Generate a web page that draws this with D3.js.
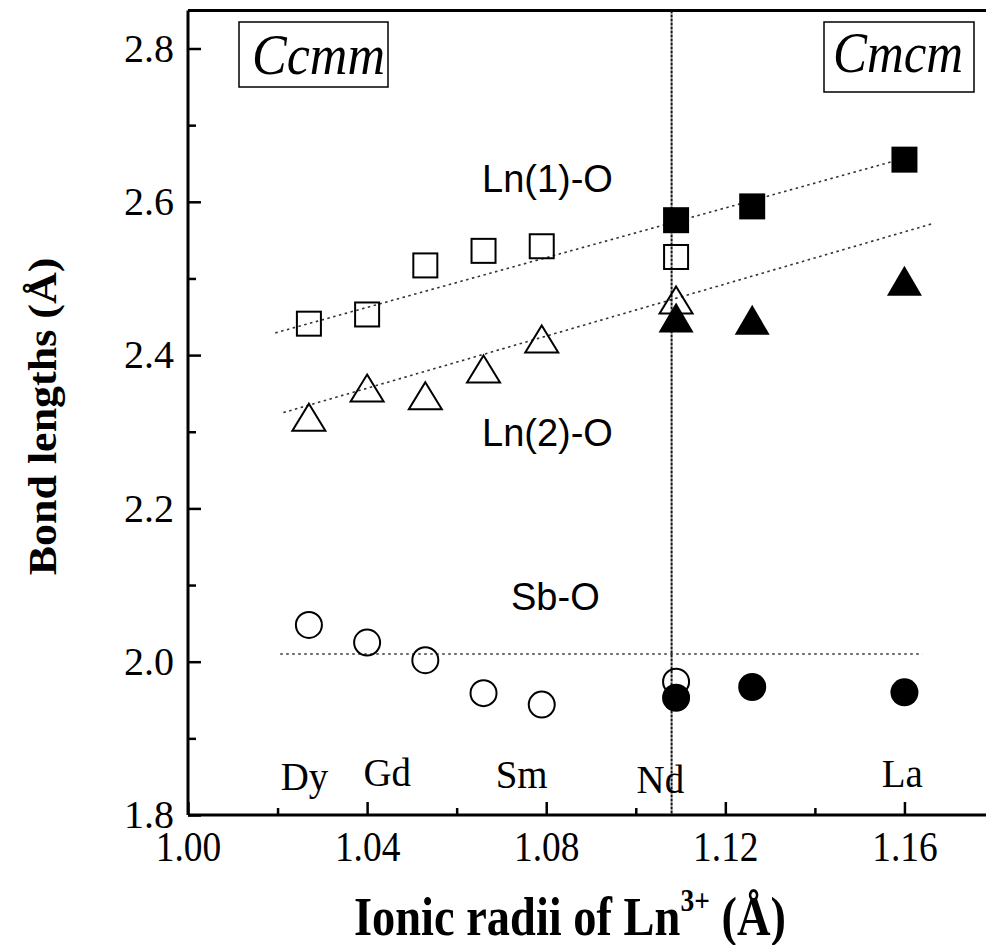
<!DOCTYPE html>
<html>
<head>
<meta charset="utf-8">
<script src="https://cdn.jsdelivr.net/npm/d3@7"></script>
<style>
  html, body { margin: 0; padding: 0; background: #fff; }
  svg { display: block; }
</style>
</head>
<body>
<svg id="chart" width="986" height="945"></svg>
<script>
// ionic radii of Ln3+ (Å)
const elements = ["Dy", "Tb", "Gd", "Eu", "Sm", "Nd", "Pr", "La"];
const radii    = [1.027, 1.040, 1.053, 1.066, 1.079, 1.109, 1.126, 1.160];

// Ccmm phase (open symbols): Dy..Sm + Nd
const ccmmX    = [1.027, 1.040, 1.053, 1.066, 1.079, 1.109];
const ln1Open  = [2.441, 2.453, 2.517, 2.536, 2.542, 2.528];
const ln2Open  = [2.319, 2.357, 2.347, 2.382, 2.421, 2.472];
const sbOpen   = [2.048, 2.025, 2.002, 1.959, 1.944, 1.974];

// Cmcm phase (filled symbols): Nd, Pr, La
const cmcmX    = [1.109, 1.126, 1.160];
const ln1Fill  = [2.576, 2.594, 2.655];
const ln2Fill  = [2.449, 2.446, 2.497];
const sbFill   = [1.953, 1.967, 1.960];

// dotted guide lines [x0, x1], [y0, y1]
const fitLn1X = [1.0195, 1.157], fitLn1Y = [2.429, 2.652];
const fitLn2X = [1.0213, 1.166], fitLn2Y = [2.325, 2.571];
const fitSbX  = [1.0206, 1.164], fitSbY  = [2.010, 2.010];
const phaseBoundary = 1.108;

// element labels under the points
const labelNames = ["Dy", "Gd", "Sm", "Nd", "La"];
const labelX     = [1.026, 1.0445, 1.0745, 1.1055, 1.1595];
const labelY     = [1.833, 1.838, 1.835, 1.829, 1.836];

const xTicks = [1.00, 1.04, 1.08, 1.12, 1.16];
const xMinor = [1.02, 1.06, 1.10, 1.14, 1.18];
const yTicks = [1.8, 2.0, 2.2, 2.4, 2.6, 2.8];
const yMinor = [1.9, 2.1, 2.3, 2.5, 2.7];

const svg = d3.select("#chart");
const serif = "'Liberation Serif', 'Times New Roman', serif";
const sans  = "'Liberation Sans', Arial, sans-serif";

const x = d3.scaleLinear().domain([1.00, 1.18]).range([188, 994]);
const y = d3.scaleLinear().domain([1.8, 2.8]).range([815, 48.5]);

// top frame
svg.append("line")
  .attr("x1", 188).attr("x2", 986).attr("y1", 10.5).attr("y2", 10.5)
  .attr("stroke", "#000").attr("stroke-width", 3);

// guide lines
function dotted(xs, ys) {
  svg.append("line")
    .attr("x1", x(xs[0])).attr("y1", y(ys[0]))
    .attr("x2", x(xs[1])).attr("y2", y(ys[1]))
    .attr("stroke", "#333").attr("stroke-width", 1.6)
    .attr("stroke-dasharray", "2.5,3.5");
}
dotted(fitLn1X, fitLn1Y);
dotted(fitLn2X, fitLn2Y);
dotted(fitSbX, fitSbY);

svg.append("line")
  .attr("x1", x(phaseBoundary)).attr("x2", x(phaseBoundary))
  .attr("y1", 10.5).attr("y2", 815)
  .attr("stroke", "#111").attr("stroke-width", 2)
  .attr("stroke-dasharray", "3,1");

// axes
const xAxis = svg.append("g").attr("transform", "translate(0,815)")
  .call(d3.axisBottom(x).tickValues(xTicks).tickFormat(d3.format(".2f"))
    .tickSize(-13).tickSizeOuter(0));
svg.append("g").attr("transform", "translate(0,815)")
  .call(d3.axisBottom(x).tickValues(xMinor).tickFormat("").tickSize(-7).tickSizeOuter(0))
  .select(".domain").remove();

const yAxis = svg.append("g").attr("transform", "translate(188,0)")
  .call(d3.axisLeft(y).tickValues(yTicks).tickFormat(d3.format(".1f"))
    .tickSize(-13).tickSizeOuter(0));
svg.append("g").attr("transform", "translate(188,0)")
  .call(d3.axisLeft(y).tickValues(yMinor).tickFormat("").tickSize(-8).tickSizeOuter(0))
  .select(".domain").remove();

svg.selectAll(".domain").attr("stroke-width", 3).attr("stroke", "#000");
svg.selectAll(".tick line").attr("stroke-width", 2.5).attr("stroke", "#000");
xAxis.select(".domain").attr("d", "M188,0H986");
yAxis.select(".domain").attr("d", "M0,815V10.5");

xAxis.selectAll("text")
  .attr("y", 46).attr("dy", null)
  .attr("transform", "scale(0.87,1)")
  .style("font-family", serif).style("font-size", "43px").attr("fill", "#000");
yAxis.selectAll("text")
  .attr("x", -14).attr("dy", "0.32em")
  .style("font-family", serif).style("font-size", "40px").attr("fill", "#000");

// markers
const marks = svg.append("g");
function squares(xs, ys, filled) {
  const s = filled ? 26 : 24;
  marks.selectAll(null).data(xs.map((d, i) => [d, ys[i]])).join("rect")
    .attr("x", d => x(d[0]) - s / 2).attr("y", d => y(d[1]) - s / 2)
    .attr("width", s).attr("height", s)
    .attr("fill", filled ? "#000" : "none")
    .attr("stroke", "#000").attr("stroke-width", filled ? 0 : 2);
}
function triangles(xs, ys, filled) {
  const w = filled ? 35 : 33, h = filled ? 30 : 27;
  marks.selectAll(null).data(xs.map((d, i) => [d, ys[i]])).join("path")
    .attr("d", d => {
      const cx = x(d[0]), cy = y(d[1]);
      return `M${cx},${cy - h / 2}L${cx + w / 2},${cy + h / 2}L${cx - w / 2},${cy + h / 2}Z`;
    })
    .attr("fill", filled ? "#000" : "none")
    .attr("stroke", "#000").attr("stroke-width", filled ? 0 : 2)
    .attr("stroke-linejoin", "miter");
}
function circles(xs, ys, filled) {
  marks.selectAll(null).data(xs.map((d, i) => [d, ys[i]])).join("circle")
    .attr("cx", d => x(d[0])).attr("cy", d => y(d[1]))
    .attr("r", filled ? 14 : 13)
    .attr("fill", filled ? "#000" : "none")
    .attr("stroke", "#000").attr("stroke-width", filled ? 0 : 2);
}
squares(ccmmX, ln1Open, false);
triangles(ccmmX, ln2Open, false);
circles(ccmmX, sbOpen, false);
squares(cmcmX, ln1Fill, true);
triangles(cmcmX, ln2Fill, true);
circles(cmcmX, sbFill, true);

// text helper
function label(txt, px, py, opts) {
  const g = svg.append("g")
    .attr("transform", `translate(${px},${py}) scale(${opts.sx || 1},1)`);
  g.append("text")
    .attr("text-anchor", opts.anchor || "start")
    .style("font-family", opts.family || serif)
    .style("font-size", opts.size + "px")
    .style("font-style", opts.italic ? "italic" : "normal")
    .style("font-weight", opts.bold ? "bold" : "normal")
    .attr("fill", "#000")
    .text(txt);
  return g;
}

// series labels
label("Ln(1)-O", 482, 191.5, { family: sans, size: 38 });
label("Ln(2)-O", 482, 446, { family: sans, size: 38 });
label("Sb-O", 511, 610, { family: sans, size: 38 });

// element labels
labelNames.forEach((n, i) => {
  label(n, x(labelX[i]), y(labelY[i]), { size: 41, anchor: "middle", sx: 0.95 });
});

// phase boxes
svg.append("rect").attr("x", 239).attr("y", 22).attr("width", 149).attr("height", 65)
  .attr("fill", "none").attr("stroke", "#000").attr("stroke-width", 1.5);
label("Ccmm", 252, 74, { size: 56, italic: true, sx: 0.93 });
svg.append("rect").attr("x", 824).attr("y", 22).attr("width", 150).attr("height", 70)
  .attr("fill", "none").attr("stroke", "#000").attr("stroke-width", 1.5);
label("Cmcm", 833, 72, { size: 56, italic: true, sx: 0.91 });

// axis titles
const xt = svg.append("g").attr("transform", "translate(354,935) scale(0.86,1)")
  .append("text")
  .style("font-family", serif).style("font-weight", "bold").style("font-size", "54px")
  .attr("fill", "#000");
xt.append("tspan").text("Ionic radii of Ln");
xt.append("tspan").attr("dy", -24).style("font-size", "32px").text("3+");
xt.append("tspan").attr("dy", 24).text(" (Å)");

svg.append("g").attr("transform", "translate(56,416.5) rotate(-90) scale(1,0.9)")
  .append("text")
  .attr("text-anchor", "middle")
  .style("font-family", serif).style("font-weight", "bold").style("font-size", "44px")
  .attr("fill", "#000")
  .text("Bond lengths (Å)");
</script>
</body>
</html>
